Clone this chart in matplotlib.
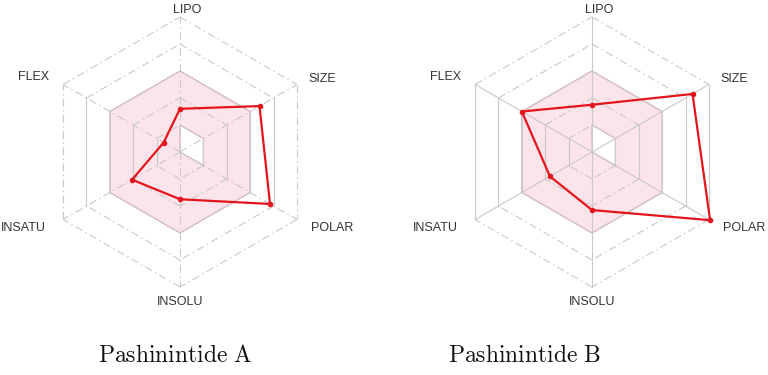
import numpy as np
import matplotlib.pyplot as plt

plt.rcParams['mathtext.fontset'] = 'cm'

# axes of the radar, clockwise from the top
labels = ['LIPO', 'SIZE', 'POLAR', 'INSOLU', 'INSATU', 'FLEX']
angles_deg = [90, 30, -30, -90, -150, 150]

# values (grid levels 0..5)
values_a = [1.6, 3.4, 3.85, 1.75, 2.05, 0.7]
values_b = [1.75, 4.3, 5.05, 2.15, 1.8, 3.0]
titles = ['Pashinintide A', 'Pashinintide B']

# optimal (pink) range per axis
optimal_low = [1, 1, 1, 0, 0, 0]
optimal_high = [3, 3, 3, 3, 3, 3]
grid_levels = [1, 2, 3, 4, 5]

W, H = 768, 375
unit = 27  # pixels per grid level
centers_px = [(180, 152), (592, 152)]
title_x_px = [175, 525]
dashdot = (0, (7, 3, 1.5, 3))
axis_styles = [dashdot, '-']
# highest grid level whose vertical edges are drawn solid
solid_vert_max = [4, 5]

# label placement: (dx, dy, ha) in grid units
label_pos = {
    'LIPO': (0.26, 5.26, 'center'),
    'SIZE': (4.74, 2.7, 'left'),
    'POLAR': (4.85, -2.81, 'left'),
    'INSOLU': (0.0, -5.56, 'center'),
    'INSATU': (-4.96, -2.81, 'right'),
    'FLEX': (-4.85, 2.78, 'right'),
}

ang = np.deg2rad(angles_deg)


def to_xy(r):
    r = np.asarray(r, dtype=float)
    return r * np.cos(ang), r * np.sin(ang)


def closed(a):
    return np.append(a, a[0])


fig = plt.figure(figsize=(W / 100, H / 100), dpi=100)
xlim, ylim = 6.5, 5.7
grid_c = '#c9c9c9'

for i, vals in enumerate([values_a, values_b]):
    cx, cy = centers_px[i]
    aw, ah = 2 * xlim * unit, 2 * ylim * unit
    ax = fig.add_axes([(cx - aw / 2) / W, (H - cy - ah / 2) / H, aw / W, ah / H])
    ax.set_xlim(-xlim, xlim)
    ax.set_ylim(-ylim, ylim)
    ax.set_aspect('equal')
    ax.axis('off')

    # pink optimal area
    ox, oy = to_xy(optimal_high)
    ax.fill(ox, oy, facecolor='#fbe4ea', edgecolor='#dbb6c2', lw=1.0, zorder=1)
    ix, iy = to_xy(optimal_low)
    ax.fill(ix, iy, facecolor='white', edgecolor='#dbb6c2', lw=0.9, zorder=1.1)

    # hexagon grid
    for lv in grid_levels:
        gx, gy = to_xy([lv] * 6)
        gx, gy = closed(gx), closed(gy)
        for k in range(6):
            vertical = abs(gx[k] - gx[k + 1]) < 1e-6 and lv <= solid_vert_max[i]
            ax.plot(gx[k:k + 2], gy[k:k + 2], color=grid_c, lw=0.8,
                    linestyle='-' if vertical else dashdot, zorder=2)

    # spokes
    sx, sy = to_xy([grid_levels[-1]] * 6)
    for k in range(6):
        ax.plot([0, sx[k]], [0, sy[k]], color=grid_c, lw=0.8,
                linestyle=axis_styles[i], zorder=2)

    # compound profile
    px, py = to_xy(vals)
    ax.plot(closed(px), closed(py), color='#e4151c', lw=1.6, zorder=3)
    ax.plot(px, py, 'o', color='#e4151c', ms=3, zorder=4)

    for lab in labels:
        dx, dy, ha = label_pos[lab]
        ax.text(dx, dy, lab, ha=ha, va='center', fontsize=9,
                family='Liberation Sans', color='#333333')

    fig.text(title_x_px[i] / W, 1 - 355 / H, r'$\mathrm{' + titles[i].replace(' ', r'\ ') + '}$',
             ha='center', va='center', fontsize=17, color='#111111')

fig.savefig('out.png', dpi=100)
